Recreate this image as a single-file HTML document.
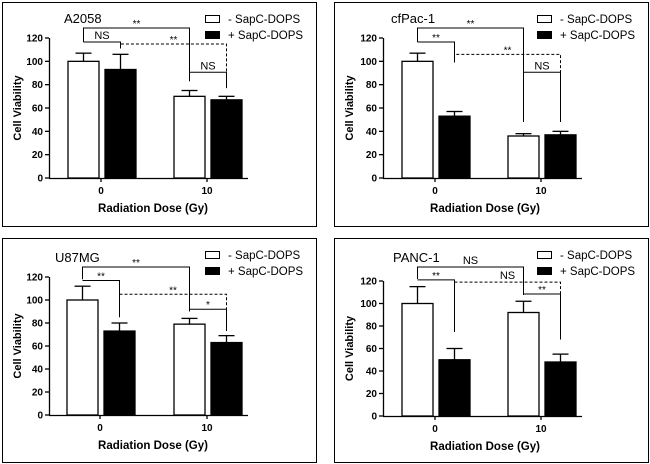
<!DOCTYPE html>
<html><head><meta charset="utf-8"><style>
html,body{margin:0;padding:0;background:#fff;}
svg{display:block;font-family:"Liberation Sans",Arial,sans-serif;}
</style></head><body>
<svg id="fig" width="650" height="464" viewBox="0 0 650 464" xmlns="http://www.w3.org/2000/svg"></svg>
<script>
// Data
const panelTitles = ["A2058", "cfPac-1", "U87MG", "PANC-1"];
const doseCategories = ["0", "10"];
const seriesNames = ["- SapC-DOPS", "+ SapC-DOPS"];
const yTicks = [0, 20, 40, 60, 80, 100, 120];
// values per panel: [W0, B0, W10, B10]
const viabilityA2058 = [100, 93, 70, 67];
const viabilityCfPac = [100, 53, 36, 37];
const viabilityU87 = [100, 73, 79, 63];
const viabilityPanc = [100, 50, 92, 48];
const errA2058 = [7, 13, 5, 3];
const errCfPac = [7, 4, 2, 3];
const errU87 = [12, 7, 5, 6];
const errPanc = [15, 10, 10, 7];
// brackets: [barA, barB, yValue, legA, legB, label, dashed]
const bracketsA2058 = [[0,2,128.6,116.6,83,"**",0],[0,1,116.6,116.6,111,"NS",0],[1,3,114.9,111,77,"**",1],[2,3,90.6,83,77,"NS",0]];
const bracketsCfPac = [[0,2,128.6,116.6,48,"**",0],[0,1,116.6,116.6,99,"**",0],[1,3,106,99,48,"**",1],[2,3,90.6,48,48,"NS",0]];
const bracketsU87 = [[0,2,128.7,118,91,"**",0],[0,1,117,117,85,"**",0],[1,3,105,105,92,"**",1],[2,3,92,90,73,"*",0]];
const bracketsPanc = [[0,2,132.4,121.8,107.6,"NS",0],[0,1,121,121,74.7,"**",0],[1,3,119,119,68,"NS",1],[2,3,108.4,108.4,68,"**",0]];

const values = [viabilityA2058, viabilityCfPac, viabilityU87, viabilityPanc];
const errs = [errA2058, errCfPac, errU87, errPanc];
const brackets = [bracketsA2058, bracketsCfPac, bracketsU87, bracketsPanc];

// layout
const layouts = [
  {bx:2,by:2,bw:314,bh:224,ax:49,y0:178,y120:38,t0:101,t10:207,tx:64,ty:18},
  {bx:334,by:2,bw:314,bh:224,ax:383,y0:178,y120:38,t0:435,t10:541,tx:391,ty:18},
  {bx:2,by:238,bw:314,bh:224,ax:49,y0:415,y120:277,t0:100,t10:207,tx:55,ty:257},
  {bx:334,by:238,bw:314,bh:224,ax:383,y0:416,y120:281,t0:435,t10:541,tx:393,ty:257}
];

const NS = "http://www.w3.org/2000/svg";
const svg = document.getElementById('fig');
function mk(tag, attrs, parent){const e=document.createElementNS(NS,tag);for(const k in attrs)e.setAttribute(k,attrs[k]);(parent||svg).appendChild(e);return e;}

layouts.forEach((L, p) => {
  const g = mk('g', {});
  
  
  const yS = v => L.y0 - (v / 120) * (L.y0 - L.y120);
  const tickX = [L.t0, L.t10];
  const barLeft = i => tickX[Math.floor(i/2)] + (i%2 === 0 ? -33 : 4);
  const barCenter = i => barLeft(i) + 15.5;

  const border = mk('rect', {x:L.bx+0.5,y:L.by+0.5,width:L.bw,height:L.bh,fill:'none',stroke:'#000','stroke-width':1}, g);
  
  

  const title = mk('text', {x:L.tx,y:L.ty+5,'font-size':13}, g);
  title.textContent = panelTitles[p];
  
  

  // y axis
  const yAxis = mk('line', {x1:L.ax+0.5,y1:L.y120,x2:L.ax+0.5,y2:L.y0,stroke:'#000','stroke-width':1.3}, g);
  
  
  yTicks.forEach(t => {
    const y = yS(t);
    mk('line', {x1:L.ax-4,y1:y,x2:L.ax,y2:y,stroke:'#000','stroke-width':1.3}, g);
    const tl = mk('text', {x:L.ax-6,y:y+3.5,'font-size':10,'font-weight':'bold','text-anchor':'end'}, g);
    tl.textContent = t;
    
    
  });
  // x axis
  const xAxis = mk('line', {x1:L.ax,y1:L.y0+0.5,x2:L.ax+199,y2:L.y0+0.5,stroke:'#000','stroke-width':1.3}, g);
  
  
  doseCategories.forEach((c, i) => {
    mk('line', {x1:tickX[i],y1:L.y0,x2:tickX[i],y2:L.y0+4,stroke:'#000','stroke-width':1.3}, g);
    const tl = mk('text', {x:tickX[i],y:L.y0+16,'font-size':10,'font-weight':'bold','text-anchor':'middle'}, g);
    tl.textContent = c;
    
    
  });
  const yl = mk('text', {x:0,y:0,'font-size':11,'font-weight':'bold','text-anchor':'middle',transform:`translate(${L.bx+19},${(L.y0+L.y120)/2}) rotate(-90)`}, g);
  yl.textContent = 'Cell Viability';
  
  
  const xl = mk('text', {x:L.bx+151,y:L.y0+34,'font-size':11.5,'font-weight':'bold','text-anchor':'middle'}, g);
  xl.textContent = 'Radiation Dose (Gy)';
  
  

  // bars
  values[p].forEach((v, i) => {
    const x = barLeft(i), top = yS(v), ey = yS(v + errs[p][i]), cx = barCenter(i);
    mk('line', {x1:cx,y1:top,x2:cx,y2:ey,stroke:'#000','stroke-width':1.3}, g);
    mk('line', {x1:cx-8,y1:ey,x2:cx+8,y2:ey,stroke:'#000','stroke-width':1.3}, g);
    const b = mk('rect', {x:x,y:top,width:31,height:L.y0-top,fill:i%2?'#000':'#fff',stroke:'#000','stroke-width':1.3}, g);
    
    
  });

  // brackets
  brackets[p].forEach(br => {
    const [a, b, yv, la, lb, label, dashed] = br;
    const xa = barCenter(a), xb = barCenter(b), y = yS(yv);
    const d = dashed ? '3,2' : 'none';
    const path = mk('path', {d:`M${xa},${yS(la)} L${xa},${y} L${xb},${y} L${xb},${yS(lb)}`,fill:'none',stroke:'#000','stroke-width':1,'stroke-dasharray':d}, g);
    
    
    const t = mk('text', {x:(xa+xb)/2,y:y-(label==='NS'?3:1),'font-size':label==='NS'?11:10,'text-anchor':'middle'}, g);
    t.textContent = label;
    
    
  });

  // legend
  seriesNames.forEach((s, i) => {
    const ly = L.by + 13 + i * 16;
    const sw = mk('rect', {x:L.bx+203.5,y:ly+0.5,width:14,height:7,fill:i?'#000':'#fff',stroke:'#000','stroke-width':1}, g);
    
    
    const lt = mk('text', {x:L.bx+226,y:ly+8,'font-size':11.5}, g);
    lt.textContent = s;
    
    
  });
});
</script>
</body></html>
